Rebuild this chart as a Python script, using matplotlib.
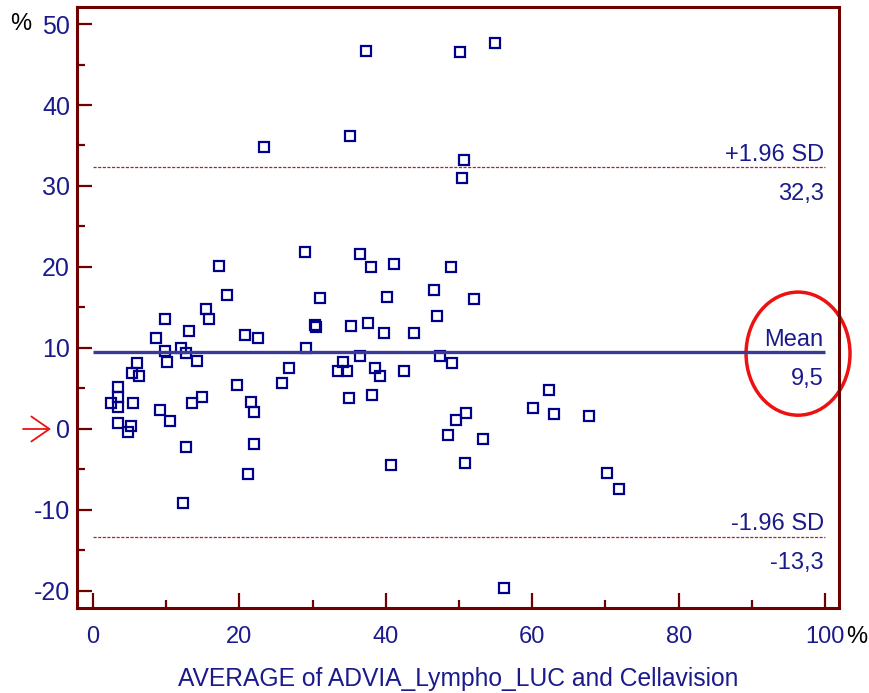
import matplotlib
matplotlib.use('Agg')
import matplotlib.pyplot as plt
from matplotlib.patches import Ellipse, FancyArrowPatch
from matplotlib.ticker import MultipleLocator

plt.rcParams['font.family'] = ['Liberation Sans', 'DejaVu Sans']
plt.rcParams['axes.unicode_minus'] = False

# Bland-Altman: average of the two methods vs. their difference (%)
avg = [15.4, 15.8, 9.8, 13.1, 8.6, 9.8, 12.0, 12.7, 10.1, 14.2,
       6.0, 5.3, 6.3, 3.4, 3.4, 2.5, 3.4, 5.5, 9.2, 10.5,
       13.5, 14.9, 3.4, 5.2, 4.8, 12.7, 12.3, 23.4, 35.1, 29.0,
       36.5, 17.2, 18.3, 31.0, 30.3, 30.5, 35.2, 20.8, 22.5, 29.1,
       36.5, 34.2, 33.5, 34.7, 26.8, 25.8, 19.7, 21.6, 22.0, 35.0,
       22.0, 21.2, 37.3, 50.1, 54.9, 50.7, 50.4, 38.0, 41.1, 48.9,
       40.2, 46.6, 52.0, 47.0, 37.6, 39.8, 43.9, 38.5, 39.2, 42.5,
       47.4, 49.0, 38.1, 51.0, 49.6, 48.5, 53.3, 40.7, 50.8, 56.1,
       62.3, 60.1, 63.0, 67.8, 70.2, 71.9]
diff = [14.8, 13.6, 13.6, 12.1, 11.2, 9.6, 10.0, 9.4, 8.3, 8.4,
        8.1, 6.9, 6.5, 5.2, 4.0, 3.2, 2.7, 3.2, 2.3, 1.0,
        3.2, 4.0, 0.7, 0.4, -0.4, -2.2, -9.1, 34.8, 36.2, 21.9,
        21.6, 20.1, 16.5, 16.2, 12.8, 12.6, 12.7, 11.6, 11.2, 10.0,
        9.0, 8.3, 7.2, 7.2, 7.5, 5.7, 5.4, 3.3, 2.1, 3.8,
        -1.9, -5.6, 46.7, 46.5, 47.7, 33.2, 31.0, 20.0, 20.4, 20.0,
        16.3, 17.2, 16.0, 14.0, 13.1, 11.9, 11.9, 7.5, 6.5, 7.2,
        9.0, 8.1, 4.2, 2.0, 1.1, -0.7, -1.2, -4.4, -4.2, -19.6,
        4.8, 2.6, 1.9, 1.6, -5.4, -7.4]

mean_diff = 9.5
upper_loa = 32.3
lower_loa = -13.3

axis_red = '#6e0000'
navy = '#1a1a8c'

fig = plt.figure(figsize=(8.7, 6.93), dpi=100)
ax = fig.add_axes([0.0885, 0.1227, 0.8759, 0.8672])

ax.plot(avg, diff, 's', ms=6.5, mfc='none', mec='#00008b', mew=1.6)

ax.hlines(mean_diff, 0, 100, color='#3a3a96', lw=2.4)
ax.hlines([upper_loa, lower_loa], 0, 100, color='#b22222', lw=0.9,
          linestyles=(0, (2.5, 1.2)))

# labels for the mean and limits of agreement
for y, name in [(upper_loa, '+1.96 SD'), (mean_diff, 'Mean'), (lower_loa, '-1.96 SD')]:
    ax.annotate(name, (100, y), xytext=(-1, 4.5), textcoords='offset points',
                ha='right', va='baseline', fontsize=17, color=navy)
    ax.annotate(f'{y:.1f}'.replace('.', ','), (100, y), xytext=(-1, -23.5),
                textcoords='offset points', ha='right', va='baseline',
                fontsize=17, color=navy)

ax.add_patch(Ellipse((96.3, 9.3), 14.2, 15.2, fill=False, ec='#ee1111',
                     lw=2.5, clip_on=False))

ax.set_xlim(-2.19, 101.9)
ax.set_ylim(-22.1, 52.1)
ax.xaxis.set_major_locator(MultipleLocator(20))
ax.xaxis.set_minor_locator(MultipleLocator(10))
ax.yaxis.set_major_locator(MultipleLocator(10))
ax.yaxis.set_minor_locator(MultipleLocator(5))
ax.set_xticks(range(0, 101, 20))
ax.set_yticks(range(-20, 51, 10))

for s in ax.spines.values():
    s.set_color(axis_red)
    s.set_linewidth(2.2)
ax.tick_params(which='both', direction='in', color=axis_red, width=1.6,
               top=False, right=False)
ax.tick_params(which='major', length=10.8)
ax.tick_params(which='minor', length=5.8)
ax.tick_params(axis='x', which='major', pad=13, labelsize=17, labelcolor=navy)
ax.tick_params(axis='y', which='major', pad=5, labelsize=18, labelcolor=navy)

ax.set_xlabel('AVERAGE of ADVIA_Lympho_LUC and Cellavision', fontsize=17.7,
              color=navy, labelpad=14)

fig.text(21 / 870, 1 - 24 / 693, '%', fontsize=17, color='black',
         ha='center', va='center')
fig.text(846 / 870, 1 - 637 / 693, '%', fontsize=17, color='black',
         ha='left', va='center')

# red arrow pointing at the zero line
fig.add_artist(FancyArrowPatch(
    (23 / 870, 1 - 429 / 693), (51 / 870, 1 - 429 / 693),
    transform=fig.transFigure, arrowstyle='->,head_length=0.65,head_width=0.45',
    mutation_scale=20, color='#ee1111', lw=1.3, shrinkA=0, shrinkB=0))

fig.savefig('out.png', dpi=100)
